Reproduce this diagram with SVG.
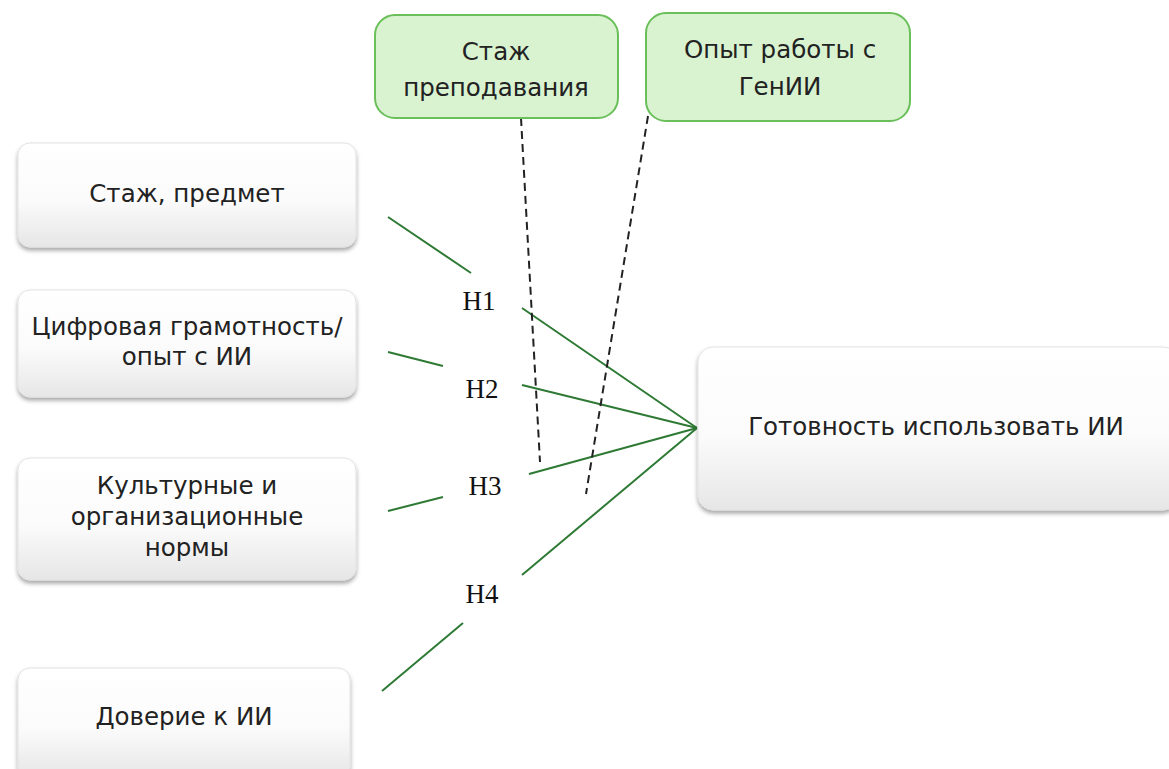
<svg xmlns="http://www.w3.org/2000/svg" width="1169" height="769" viewBox="0 0 1169 769">
<defs>
<linearGradient id="gw" x1="0" y1="0" x2="0" y2="1">
<stop offset="0" stop-color="#ffffff"/>
<stop offset="0.55" stop-color="#fbfbfb"/>
<stop offset="1" stop-color="#e6e6e6"/>
</linearGradient>
<filter id="sh" x="-10%" y="-10%" width="120%" height="130%">
<feDropShadow dx="0" dy="3" stdDeviation="2" flood-color="#000" flood-opacity="0.35"/>
</filter>
</defs>
<style>
.wb{fill:url(#gw);stroke:#e2e2e2;stroke-width:1;filter:url(#sh)}
.gb{fill:#d9f2d0;stroke:#6abf5a;stroke-width:2}
.t{font-family:"DejaVu Sans",sans-serif;font-size:24.5px;fill:#222;text-anchor:middle}
.h{font-family:"Liberation Serif","Times New Roman",serif;font-size:27px;fill:#111;text-anchor:middle}
.g{stroke:#2e7a35;stroke-width:2;fill:none}
.d{stroke:#222;stroke-width:2;fill:none;stroke-dasharray:8 5}
</style>
<rect width="1169" height="769" fill="#fff"/>
<g id="connectors">
<line class="g" x1="388" y1="217" x2="471" y2="273"/>
<line class="g" x1="522" y1="308" x2="697" y2="428"/>
<line class="g" x1="388" y1="352" x2="443" y2="366"/>
<line class="g" x1="522" y1="385" x2="697" y2="428"/>
<line class="g" x1="388" y1="511" x2="443" y2="497"/>
<line class="g" x1="529" y1="474" x2="697" y2="428"/>
<line class="g" x1="522" y1="575" x2="697" y2="428"/>
<line class="g" x1="463" y1="623" x2="382" y2="691"/>
<line class="d" x1="521" y1="118" x2="540" y2="462"/>
<line class="d" x1="648" y1="116" x2="586" y2="494"/>
</g>
<g id="h1"><text class="h" x="479" y="310">H1</text></g>
<g id="h2"><text class="h" x="482" y="398">H2</text></g>
<g id="h3"><text class="h" x="485" y="495">H3</text></g>
<g id="h4"><text class="h" x="482" y="603">H4</text></g>
<g id="n1"><rect class="wb" x="18" y="143" width="338" height="104" rx="12"/><text class="t" x="187" y="202">Стаж, предмет</text></g>
<g id="n2"><rect class="wb" x="18" y="290" width="338" height="107" rx="12"/><text class="t" x="187" y="335">Цифровая грамотность/</text><text class="t" x="187" y="365">опыт с ИИ</text></g>
<g id="n3"><rect class="wb" x="18" y="458" width="338" height="122" rx="12"/><text class="t" x="187" y="494">Культурные и</text><text class="t" x="187" y="525">организационные</text><text class="t" x="187" y="556">нормы</text></g>
<g id="n4"><rect class="wb" x="18" y="668" width="332" height="110" rx="12"/><text class="t" x="184" y="725">Доверие к ИИ</text></g>
<g id="target"><rect class="wb" x="698" y="347" width="480" height="163" rx="15"/><text class="t" x="936" y="435">Готовность использовать ИИ</text></g>
<g id="m1"><rect class="gb" x="375" y="15" width="243" height="103" rx="20"/><text class="t" x="496" y="60">Стаж</text><text class="t" x="496" y="96">преподавания</text></g>
<g id="m2"><rect class="gb" x="646" y="13" width="264" height="108" rx="20"/><text class="t" x="780" y="58">Опыт работы с</text><text class="t" x="780" y="95">ГенИИ</text></g>
</svg>
